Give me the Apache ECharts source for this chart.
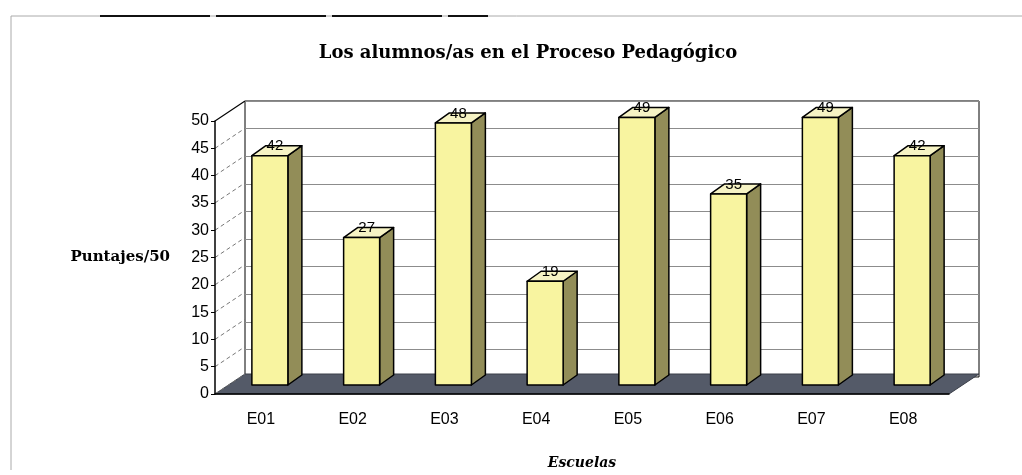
<!DOCTYPE html>
<html>
<head>
<meta charset="utf-8">
<script src="https://cdn.jsdelivr.net/npm/echarts@6/dist/echarts.min.js"></script>
<style>
  html, body { margin: 0; padding: 0; background: #fff; }
  #chart { width: 1022px; height: 475px; }
</style>
</head>
<body>
<div id="chart"></div>
<script>
// datos
var escuelas = ['E01', 'E02', 'E03', 'E04', 'E05', 'E06', 'E07', 'E08'];
var puntajes = [42, 27, 48, 19, 49, 35, 49, 42];
var yTicks = [0, 5, 10, 15, 20, 25, 30, 35, 40, 45, 50];

var myChart = echarts.init(document.getElementById('chart'));

// profundidad 3d (px)
var DX = 30, DY = -20;
var serif = '"DejaVu Serif", "Liberation Serif", serif';
var sans = 'Arial, "Liberation Sans", sans-serif';

var barData = puntajes.map(function (v, i) { return [i, v]; });
var tickData = yTicks.map(function (v) { return [0, v]; });

function renderBar(params, api) {
    var i = api.value(0), v = api.value(1);
    var p = api.coord([i, v]);
    var base = api.coord([i, 0]);
    var w = 36, d = 14, dd = -10;
    var xl = p[0] + 9 - w / 2, xr = p[0] + 9 + w / 2;
    var top = p[1] - 9, bot = base[1] - 9;
    var line = { stroke: '#000', lineWidth: 1.5, lineJoin: 'round' };
    return {
        type: 'group',
        children: [
            { type: 'polygon', shape: { points: [[xr, top], [xr + d, top + dd], [xr + d, bot + dd], [xr, bot]] },
              style: Object.assign({ fill: '#928d58' }, line) },
            { type: 'polygon', shape: { points: [[xl, top], [xl + d, top + dd], [xr + d, top + dd], [xr, top]] },
              style: Object.assign({ fill: '#f6f3c4' }, line) },
            { type: 'rect', shape: { x: xl, y: top, width: w, height: bot - top },
              style: Object.assign({ fill: '#f8f4a0' }, line) },
            { type: 'text', x: p[0] + 14, y: top - 2,
              style: { text: String(v), fill: '#000', font: '15px ' + sans,
                       align: 'center', verticalAlign: 'bottom' } }
        ]
    };
}

function renderFloor(params, api) {
    var cs = params.coordSys;
    var x0 = cs.x, x1 = cs.x + cs.width, y0 = cs.y + cs.height;
    return {
        type: 'polygon',
        shape: { points: [[x0, y0], [x1, y0], [x1 + DX, y0 + DY], [x0 + DX, y0 + DY]] },
        style: { fill: '#545a68', stroke: '#3a3e48', lineWidth: 1 }
    };
}

function renderSideLine(params, api) {
    var cs = params.coordSys;
    var y = api.coord([0, api.value(1)])[1];
    var isTop = api.value(1) === 50;
    return {
        type: 'line',
        shape: { x1: cs.x, y1: y, x2: cs.x + DX, y2: y + DY },
        style: { stroke: isTop ? '#000' : '#777', lineWidth: isTop ? 1.2 : 1, lineDash: isTop ? null : [4, 3] }
    };
}

var option = {
    backgroundColor: '#fff',
    animation: false,
    title: {
        text: 'Los alumnos/as en el Proceso Pedagógico',
        left: 523,
        top: 39,
        textAlign: 'center',
        textStyle: { fontFamily: serif, fontWeight: 'bold', fontSize: 18, color: '#000' }
    },
    graphic: [
        { type: 'polyline', shape: { points: [[11, 470], [11, 16], [1022, 16]] },
          style: { stroke: '#aaa', lineWidth: 1, fill: null }, silent: true },
        { type: 'line', shape: { x1: 100, y1: 16, x2: 488, y2: 16 },
          style: { stroke: '#111', lineWidth: 2, lineDash: [110, 6] }, silent: true }
    ],
    grid: [
        // pared del fondo
        { left: 245, right: 43, top: 101, bottom: 98, show: true, backgroundColor: '#fff',
          borderColor: '#000', borderWidth: 1, z: 0 },
        // frente
        { left: 215, right: 73, top: 121, bottom: 78 }
    ],
    xAxis: [
        { gridIndex: 0, type: 'category', data: escuelas, show: false },
        {
            gridIndex: 1, type: 'category', data: escuelas,
            name: 'Escuelas', nameLocation: 'middle', nameGap: 62,
            nameTextStyle: { fontFamily: serif, fontWeight: 'bold', fontStyle: 'italic', fontSize: 14, color: '#000' },
            axisLine: { show: true, lineStyle: { color: '#000', width: 1.5 } },
            axisTick: { show: false },
            axisLabel: { color: '#000', fontSize: 16, fontFamily: sans, margin: 18 },
            z: 10
        }
    ],
    yAxis: [
        {
            gridIndex: 0, type: 'value', min: 0, max: 50, interval: 5,
            axisLine: { show: false }, axisTick: { show: false }, axisLabel: { show: false },
            splitLine: { show: true, lineStyle: { color: '#8c8c8c', width: 1 } }
        },
        {
            gridIndex: 1, type: 'value', min: 0, max: 50, interval: 5,
            name: 'Puntajes/50', nameLocation: 'middle', nameRotate: 0, nameGap: 45,
            nameTextStyle: { fontFamily: serif, fontWeight: 'bold', fontSize: 15, color: '#000', align: 'right' },
            axisLine: { show: true, lineStyle: { color: '#000', width: 1.5 } },
            axisTick: { show: true, length: 4, lineStyle: { color: '#000' } },
            axisLabel: { color: '#000', fontSize: 16, fontFamily: sans, margin: 6 },
            splitLine: { show: false },
            z: 10
        }
    ],
    series: [
        { type: 'custom', xAxisIndex: 1, yAxisIndex: 1, data: [[0, 0]], renderItem: renderFloor, z: 1, silent: true },
        { type: 'custom', xAxisIndex: 1, yAxisIndex: 1, data: tickData, renderItem: renderSideLine, z: 2, silent: true },
        { type: 'custom', xAxisIndex: 1, yAxisIndex: 1, data: barData, renderItem: renderBar, z: 3 }
    ]
};

myChart.setOption(option);
</script>
</body>
</html>
